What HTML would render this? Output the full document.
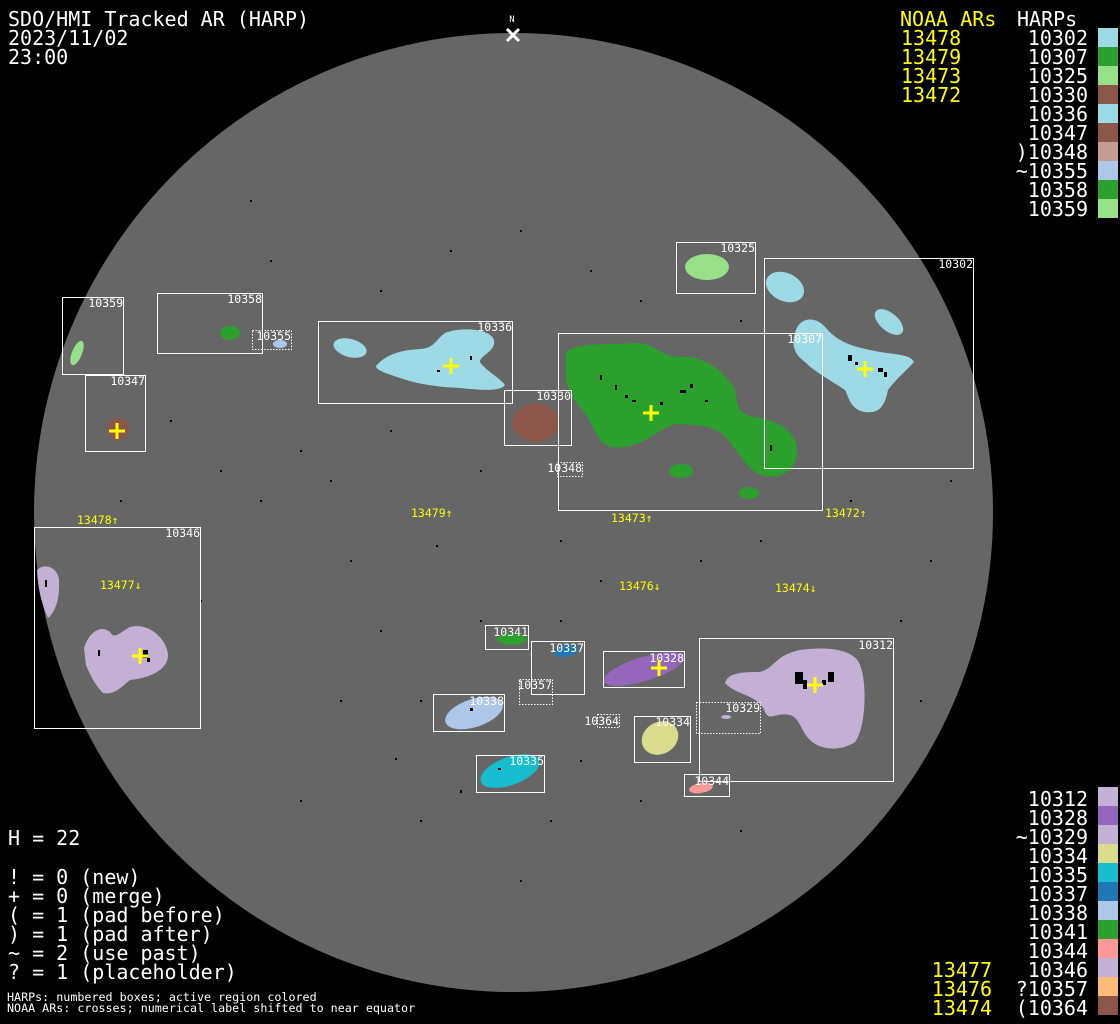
<!DOCTYPE html>
<html><head><meta charset="utf-8"><style>
html,body{margin:0;padding:0;background:#000;}
svg{display:block;}
text{font-family:"DejaVu Sans Mono","Liberation Mono",monospace;}
</style></head><body>
<svg width="1120" height="1024" viewBox="0 0 1120 1024" xmlns="http://www.w3.org/2000/svg">
<rect width="1120" height="1024" fill="#000"/>
<circle cx="513.5" cy="512.5" r="479.5" fill="#666"/>

<!-- scattered dots -->
<g fill="#000">
<rect x="250" y="200" width="2" height="2"/><rect x="300" y="450" width="2" height="2"/><rect x="436" y="545" width="2" height="2"/>
<rect x="480" y="620" width="2" height="2"/><rect x="380" y="630" width="2" height="2"/><rect x="560" y="620" width="2" height="2"/>
<rect x="460" y="790" width="2" height="3"/><rect x="580" y="760" width="2" height="2"/><rect x="420" y="700" width="2" height="2"/>
<rect x="600" y="580" width="2" height="2"/><rect x="700" y="560" width="2" height="2"/><rect x="900" y="620" width="2" height="2"/>
<rect x="200" y="600" width="2" height="2"/><rect x="260" y="500" width="2" height="2"/><rect x="350" y="560" width="2" height="2"/>
<rect x="640" y="300" width="2" height="2"/><rect x="520" y="230" width="2" height="2"/><rect x="450" y="250" width="2" height="2"/>
<rect x="395" y="758" width="2" height="2"/><rect x="550" y="820" width="2" height="2"/><rect x="520" y="880" width="2" height="2"/>
<rect x="120" y="500" width="2" height="2"/><rect x="170" y="420" width="2" height="2"/><rect x="220" y="470" width="2" height="2"/>
<rect x="330" y="480" width="2" height="2"/><rect x="390" y="430" width="2" height="2"/><rect x="480" y="470" width="2" height="2"/>
<rect x="560" y="540" width="2" height="2"/><rect x="760" y="540" width="2" height="2"/><rect x="850" y="500" width="2" height="2"/>
<rect x="930" y="560" width="2" height="2"/><rect x="920" y="700" width="2" height="2"/><rect x="640" y="800" width="2" height="2"/>
<rect x="340" y="700" width="2" height="2"/><rect x="300" y="800" width="2" height="2"/><rect x="420" y="820" width="2" height="2"/>
<rect x="740" y="830" width="2" height="2"/><rect x="270" y="260" width="2" height="2"/><rect x="380" y="290" width="2" height="2"/>
<rect x="590" y="270" width="2" height="2"/><rect x="740" y="320" width="2" height="2"/><rect x="950" y="480" width="2" height="2"/>
</g>

<!-- blobs -->
<g>
<path d="M566,352 C580,342 610,345 635,343 C655,342 660,357 680,357 C705,355 725,372 735,390 C738,405 735,415 760,418 C790,425 802,440 795,462 C788,478 770,480 755,472 C740,460 735,445 720,432 C705,424 690,425 675,424 C660,428 650,442 625,447 C605,450 598,440 592,425 C585,410 570,400 566,380 Z" fill="#2ca02c"/>
<ellipse cx="681" cy="471" rx="12" ry="7" fill="#2ca02c"/>
<ellipse cx="749" cy="493" rx="10" ry="6" fill="#2ca02c"/>
<ellipse cx="785" cy="287" rx="20" ry="14" transform="rotate(25 785 287)" fill="#9edae5"/>
<ellipse cx="889" cy="322" rx="17" ry="9" transform="rotate(40 889 322)" fill="#9edae5"/>
<path d="M796,330 C800,318 815,315 826,328 C840,345 860,348 880,352 C900,355 910,355 914,362 C905,372 895,380 888,390 C885,405 880,414 865,412 C850,410 848,395 845,390 C830,380 815,372 805,362 C795,355 790,345 796,330 Z" fill="#9edae5"/>
<ellipse cx="707" cy="267" rx="22" ry="13" fill="#98df8a"/>
<ellipse cx="350" cy="348" rx="17" ry="9" transform="rotate(15 350 348)" fill="#9edae5"/>
<path d="M376,366 C385,355 400,350 420,349 C435,348 435,340 445,333 C460,327 490,328 494,340 C496,352 480,355 480,362 C485,370 500,378 505,385 C500,392 480,390 460,388 C440,387 420,385 400,378 C385,373 376,370 376,366 Z" fill="#9edae5"/>
<ellipse cx="536" cy="423" rx="24" ry="19" fill="#8c564b"/>
<ellipse cx="118" cy="429" rx="11" ry="11" fill="#8c564b"/>
<ellipse cx="77" cy="353" rx="5" ry="13" transform="rotate(22 77 353)" fill="#98df8a"/>
<ellipse cx="230" cy="333" rx="10" ry="7" fill="#2ca02c"/>
<ellipse cx="280" cy="344" rx="7" ry="4" fill="#aec7e8"/>
<path d="M37,570 C45,562 58,568 59,580 C60,600 55,612 48,618 C42,605 38,590 37,570 Z" fill="#c5b0d5"/>
<path d="M84,648 C90,630 102,625 110,632 C115,640 120,632 130,627 C150,622 167,640 168,655 C168,670 150,678 130,680 C120,688 115,695 103,693 C95,685 90,675 86,665 Z" fill="#c5b0d5"/>
<ellipse cx="512" cy="639" rx="15" ry="6" fill="#2ca02c"/>
<ellipse cx="566" cy="651" rx="12" ry="6" transform="rotate(-10 566 651)" fill="#1f77b4"/>
<ellipse cx="474" cy="713" rx="30" ry="14" transform="rotate(-18 474 713)" fill="#aec7e8"/>
<ellipse cx="510" cy="771" rx="31" ry="14" transform="rotate(-20 510 771)" fill="#17becf"/>
<ellipse cx="660" cy="738" rx="19" ry="16" transform="rotate(-30 660 738)" fill="#dbdb8d"/>
<ellipse cx="644" cy="669" rx="42" ry="12" transform="rotate(-17 644 669)" fill="#9467bd"/>
<path d="M725,683 C728,672 745,672 760,672 C775,668 775,655 800,650 C830,646 855,650 860,665 C868,685 865,730 855,742 C840,752 820,750 810,740 C800,730 800,718 790,715 C775,712 770,722 765,712 C760,695 735,695 725,683 Z" fill="#c5b0d5"/>
<ellipse cx="726" cy="717" rx="5" ry="2" fill="#c5b0d5"/>
<ellipse cx="701" cy="788" rx="12" ry="5" transform="rotate(-10 701 788)" fill="#ff9896"/>
</g>

<!-- spot clusters -->
<g fill="#000">
<rect x="625" y="395" width="3" height="3"/><rect x="632" y="400" width="4" height="2"/><rect x="615" y="385" width="2" height="5"/>
<rect x="680" y="390" width="6" height="3"/><rect x="690" y="384" width="3" height="4"/><rect x="600" y="375" width="2" height="5"/>
<rect x="770" y="445" width="2" height="6"/><rect x="660" y="402" width="3" height="3"/><rect x="705" y="400" width="3" height="2"/>
<rect x="848" y="355" width="4" height="6"/><rect x="855" y="362" width="3" height="3"/><rect x="878" y="368" width="5" height="4"/><rect x="884" y="372" width="3" height="5"/>
<rect x="437" y="370" width="3" height="2"/><rect x="470" y="356" width="2" height="4"/>
<rect x="795" y="672" width="8" height="12"/><rect x="803" y="680" width="4" height="9"/><rect x="828" y="672" width="6" height="10"/><rect x="822" y="680" width="4" height="5"/>
<rect x="143" y="650" width="5" height="8"/><rect x="147" y="658" width="3" height="4"/>
<rect x="98" y="650" width="2" height="6"/><rect x="45" y="580" width="2" height="7"/><rect x="470" y="708" width="3" height="3"/><rect x="498" y="768" width="3" height="2"/>
</g>

<!-- boxes -->
<g fill="none" stroke="#fff" stroke-width="1">
<rect x="62.5" y="297.5" width="61" height="77"/>
<rect x="157.5" y="293.5" width="105" height="60"/>
<rect x="85.5" y="375.5" width="60" height="76"/>
<rect x="318.5" y="321.5" width="194" height="82"/>
<rect x="504.5" y="390.5" width="67" height="55"/>
<rect x="676.5" y="242.5" width="79" height="51"/>
<rect x="764.5" y="258.5" width="209" height="210"/>
<rect x="558.5" y="333.5" width="264" height="177"/>
<rect x="34.5" y="527.5" width="166" height="201"/>
<rect x="485.5" y="625.5" width="43" height="24"/>
<rect x="531.5" y="641.5" width="53" height="53"/>
<rect x="433.5" y="694.5" width="71" height="37"/>
<rect x="476.5" y="755.5" width="68" height="37"/>
<rect x="634.5" y="716.5" width="56" height="46"/>
<rect x="603.5" y="651.5" width="81" height="36"/>
<rect x="699.5" y="638.5" width="194" height="143"/>
<rect x="684.5" y="774.5" width="45" height="22"/>
</g>
<g fill="none" stroke="#fff" stroke-width="1" stroke-dasharray="1.5,1.5">
<rect x="252.5" y="330.5" width="39" height="19"/>
<rect x="557.5" y="462.5" width="25" height="14"/>
<rect x="519.5" y="679.5" width="33" height="25"/>
<rect x="597.5" y="714.5" width="22" height="13"/>
<rect x="696.5" y="702.5" width="64" height="31"/>
</g>

<!-- box labels -->
<g fill="#fff" font-size="11.5" text-anchor="end">
<text x="123" y="307">10359</text><text x="262" y="303">10358</text><text x="291" y="340">10355</text>
<text x="145" y="385">10347</text><text x="512" y="331">10336</text><text x="571" y="400">10330</text>
<text x="582" y="472">10348</text><text x="755" y="252">10325</text><text x="973" y="268">10302</text>
<text x="822" y="343">10307</text><text x="200" y="537">10346</text><text x="528" y="636">10341</text>
<text x="584" y="652">10337</text><text x="552" y="689">10357</text><text x="504" y="705">10338</text>
<text x="544" y="765">10335</text><text x="619" y="725">10364</text><text x="690" y="726">10334</text>
<text x="684" y="662">10328</text><text x="893" y="649">10312</text><text x="760" y="712">10329</text>
<text x="729" y="785">10344</text>
</g>

<!-- crosses -->
<g stroke="#ffff00" stroke-width="3">
<path d="M443,366h16M451,358v16"/><path d="M643,413h16M651,405v16"/><path d="M857,369h16M865,361v16"/>
<path d="M109,431h16M117,423v16"/><path d="M132,656h16M140,648v16"/><path d="M651,668h16M659,660v16"/>
<path d="M807,685h16M815,677v16"/>
</g>

<!-- NOAA labels on disk -->
<g fill="#ffff00" font-size="11.5">
<text x="77" y="524">13478↑</text><text x="411" y="517">13479↑</text><text x="611" y="522">13473↑</text>
<text x="825" y="517">13472↑</text><text x="100" y="589">13477↓</text><text x="619" y="590">13476↓</text>
<text x="775" y="592">13474↓</text>
</g>

<!-- North marker -->
<path d="M507,29l12,12M519,29l-12,12" stroke="#fff" stroke-width="3"/>
<text x="512" y="22" fill="#fff" font-size="9" text-anchor="middle">N</text>

<!-- header -->
<g fill="#fff" font-size="20">
<text x="8" y="26">SDO/HMI Tracked AR (HARP)</text>
<text x="8" y="45">2023/11/02</text>
<text x="8" y="64">23:00</text>
<text x="8" y="845">H = 22</text>
<text x="8" y="884">! = 0 (new)</text>
<text x="8" y="903">+ = 0 (merge)</text>
<text x="8" y="922">( = 1 (pad before)</text>
<text x="8" y="941">) = 1 (pad after)</text>
<text x="8" y="960">~ = 2 (use past)</text>
<text x="8" y="979">? = 1 (placeholder)</text>
</g>
<g fill="#fff" font-size="11.7">
<text x="7" y="1001">HARPs: numbered boxes; active region colored</text>
<text x="7" y="1012">NOAA ARs: crosses; numerical label shifted to near equator</text>
</g>

<!-- top legend -->
<g font-size="20">
<text x="900" y="26" fill="#ffff00">NOAA ARs</text>
<text x="1017" y="26" fill="#fff">HARPs</text>
<g fill="#ffff00"><text x="901" y="45">13478</text><text x="901" y="64">13479</text><text x="901" y="83">13473</text><text x="901" y="102">13472</text></g>
<g fill="#fff" text-anchor="end">
<text x="1088" y="45">10302</text><text x="1088" y="64">10307</text><text x="1088" y="83">10325</text><text x="1088" y="102">10330</text>
<text x="1088" y="121">10336</text><text x="1088" y="140">10347</text><text x="1088" y="159">)10348</text><text x="1088" y="178">~10355</text>
<text x="1088" y="197">10358</text><text x="1088" y="216">10359</text>
</g>
</g>
<g>
<rect x="1098" y="28" width="20" height="19" fill="#9edae5"/><rect x="1098" y="47" width="20" height="19" fill="#2ca02c"/>
<rect x="1098" y="66" width="20" height="19" fill="#98df8a"/><rect x="1098" y="85" width="20" height="19" fill="#8c564b"/>
<rect x="1098" y="104" width="20" height="19" fill="#9edae5"/><rect x="1098" y="123" width="20" height="19" fill="#8c564b"/>
<rect x="1098" y="142" width="20" height="19" fill="#c49c94"/><rect x="1098" y="161" width="20" height="19" fill="#aec7e8"/>
<rect x="1098" y="180" width="20" height="19" fill="#2ca02c"/><rect x="1098" y="199" width="20" height="19" fill="#98df8a"/>
</g>

<!-- bottom legend -->
<g font-size="20">
<g fill="#fff" text-anchor="end">
<text x="1088" y="806">10312</text><text x="1088" y="825">10328</text><text x="1088" y="844">~10329</text><text x="1088" y="863">10334</text>
<text x="1088" y="882">10335</text><text x="1088" y="901">10337</text><text x="1088" y="920">10338</text><text x="1088" y="939">10341</text>
<text x="1088" y="958">10344</text><text x="1088" y="977">10346</text><text x="1088" y="996">?10357</text><text x="1088" y="1015">(10364</text>
</g>
<g fill="#ffff00" text-anchor="end">
<text x="992" y="977">13477</text><text x="992" y="996">13476</text><text x="992" y="1015">13474</text>
</g>
</g>
<g>
<rect x="1098" y="787" width="20" height="19" fill="#c5b0d5"/><rect x="1098" y="806" width="20" height="19" fill="#9467bd"/>
<rect x="1098" y="825" width="20" height="19" fill="#c5b0d5"/><rect x="1098" y="844" width="20" height="19" fill="#dbdb8d"/>
<rect x="1098" y="863" width="20" height="19" fill="#17becf"/><rect x="1098" y="882" width="20" height="19" fill="#1f77b4"/>
<rect x="1098" y="901" width="20" height="19" fill="#aec7e8"/><rect x="1098" y="920" width="20" height="19" fill="#2ca02c"/>
<rect x="1098" y="939" width="20" height="19" fill="#ff9896"/><rect x="1098" y="958" width="20" height="19" fill="#c5b0d5"/>
<rect x="1098" y="977" width="20" height="19" fill="#ffbb78"/><rect x="1098" y="996" width="20" height="19" fill="#8c564b"/>
</g>
</svg>
</body></html>
